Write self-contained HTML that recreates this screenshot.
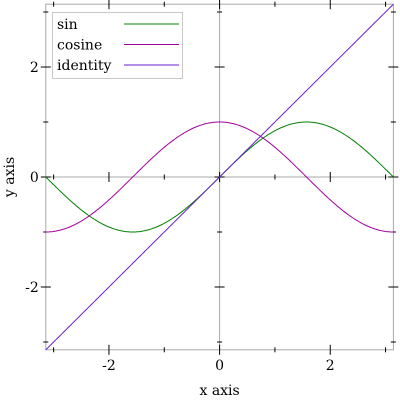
<!DOCTYPE html>
<html><head><meta charset="utf-8"><style>
body{margin:0;background:#fff}
svg text{font-family:"DejaVu Serif","Liberation Serif",serif;font-size:14px;fill:#000}
</style></head><body>
<svg id="c" width="400" height="400"></svg>
<script>
const xTicksMajor=[-2,0,2];
const xTicksMinor=[-3,-1,1,3];
const yTicksMajor=[-2,0,2];
const yTicksMinor=[-3,-1,1,3];
const seriesNames=["sin","cosine","identity"];
const seriesColors=["#008000","#a000a0","#6a1fd0"];
const L=45.8,R=393.4,T=4.2,B=349.8,PI=Math.PI;
const sx=v=>L+(v+PI)/(2*PI)*(R-L);
const sy=v=>B-(v+PI)/(2*PI)*(B-T);
const svg=document.getElementById('c');
const NS='http://www.w3.org/2000/svg';
function mk(t,a,p){const e=document.createElementNS(NS,t);for(const k in a)e.setAttribute(k,a[k]);(p||svg).appendChild(e);return e;}
const g='#a8a8a8';
let e=mk('rect',{x:L,y:T,width:R-L,height:B-T,fill:'none',stroke:g,'stroke-width':1});


e=mk('line',{x1:sx(0),x2:sx(0),y1:T,y2:B,stroke:g});


e=mk('line',{x1:L,x2:R,y1:sy(0),y2:sy(0),stroke:g});


function xt(v,len,lab){
  [B,T,sy(0)].forEach(y=>{const t=mk('line',{x1:sx(v),x2:sx(v),y1:y-len,y2:y+len,stroke:'#000','stroke-width':1});
  
  });
  if(lab){const t=mk('text',{x:sx(v),y:B+20,'text-anchor':'middle'});t.textContent=v;
  
  }
}
function yt(v,len,lab){
  [L,R,sx(0)].forEach(x=>{const t=mk('line',{x1:x-len,x2:x+len,y1:sy(v),y2:sy(v),stroke:'#000','stroke-width':1});
  
  });
  if(lab){const t=mk('text',{x:L-7,y:sy(v)+5,'text-anchor':'end'});t.textContent=v;
  
  }
}
xTicksMajor.forEach(v=>xt(v,5,true));xTicksMinor.forEach(v=>xt(v,2.5,false));
yTicksMajor.forEach(v=>yt(v,5,true));yTicksMinor.forEach(v=>yt(v,2.5,false));
const fns=[Math.sin,Math.cos,x=>x];
fns.forEach((f,i)=>{let d='';for(let k=0;k<=300;k++){const x=-PI+2*PI*k/300;d+=(k?'L':'M')+sx(x).toFixed(2)+' '+sy(f(x)).toFixed(2);}
  const p=mk('path',{d,fill:'none',stroke:seriesColors[i],'stroke-width':1});
  
  });
const lg=mk('g',{});


mk('rect',{x:52.5,y:12.5,width:130,height:66,fill:'#fff',stroke:'#c8c8c8'},lg);
seriesNames.forEach((n,i)=>{const y=24+i*20.5;
  const t=mk('text',{x:57,y:y+5},lg);t.textContent=n;
  
  
  const l=mk('line',{x1:124,x2:179,y1:y,y2:y,stroke:seriesColors[i],'stroke-width':1},lg);
  
  });
e=mk('text',{x:sx(0),y:395,'text-anchor':'middle'});e.textContent='x axis';


e=mk('text',{x:14,y:177,'text-anchor':'middle',transform:'rotate(-90 14 177)'});e.textContent='y axis';


</script>
</body></html>
